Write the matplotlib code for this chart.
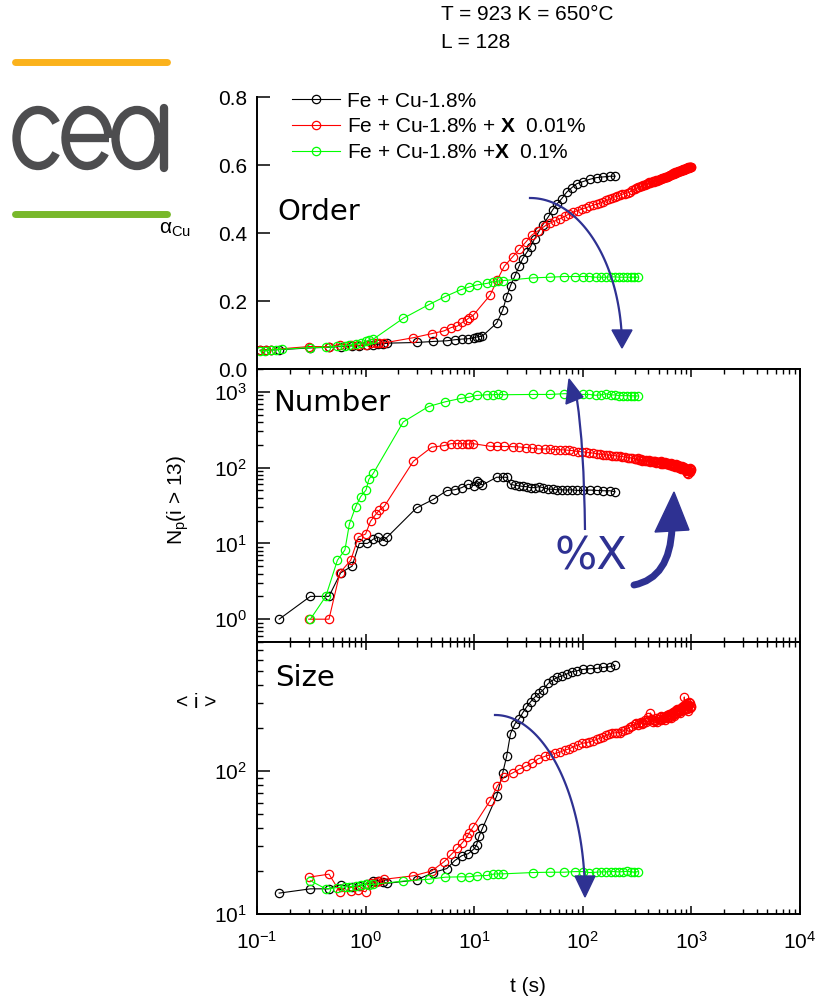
import numpy as np
import matplotlib
matplotlib.use('Agg')
import matplotlib.pyplot as plt
from matplotlib.patches import Arc, Polygon, PathPatch
from matplotlib.path import Path
from matplotlib.ticker import LogLocator, NullFormatter, FixedLocator, FormatStrFormatter

plt.rcParams['font.family'] = ['Liberation Sans', 'DejaVu Sans']
plt.rcParams['mathtext.fontset'] = 'custom'
plt.rcParams['mathtext.rm'] = 'Liberation Sans'
plt.rcParams['mathtext.it'] = 'Liberation Sans:italic'
plt.rcParams['mathtext.bf'] = 'Liberation Sans:bold'

nan = np.nan

# ---------------- data ----------------
labels = ['Fe + Cu-1.8%',
          r'Fe + Cu-1.8% + $\mathbf{X}$  0.01%',
          r'Fe + Cu-1.8% +$\mathbf{X}$  0.1%']
colors = ['#000000', '#FF0000', '#00FF00']

t_black = [0.107, 0.12, 0.135, 0.16, 0.31, 0.46, 0.59, 0.75, 0.875, 1.04, 1.18, 1.30, 1.46, 1.58,
           2.95, 4.2, 5.6, 6.6, 7.7, 8.8, 10.0, 10.5, 11.1, 11.9,
           16.1, 18.3, 19.9, 21.6, 23.8, 26, 28, 30.5, 33, 36,
           39.5, 43, 48, 53, 58, 64, 71, 79, 88, 100,
           116, 134, 155, 178, 198]
order_black = [0.055, 0.056, 0.056, 0.057, 0.062, 0.064, 0.066, 0.068, 0.069, 0.071, 0.072, 0.073, 0.074, 0.076,
               0.078, 0.081, 0.083, 0.086, 0.088, 0.089, 0.092, 0.094, 0.095, 0.097,
               0.135, 0.173, 0.213, 0.245, 0.275, 0.304, 0.325, 0.343, 0.360, 0.383,
               0.405, 0.425, 0.447, 0.469, 0.486, 0.501, 0.520, 0.533, 0.545, 0.551,
               0.558, 0.563, 0.565, 0.567, 0.567]
number_black = [nan, nan, nan, 1, 2, 2, 4.1, 5, 10, 10, 11.4, 12.1, 10.9, 12.1,
                29.5, 38, 49.7, 51, 54.5, 60.3, 58, 66.8, 63, 59,
                74.6, 74.6, 74.6, 60, 58.5, 57.3, 56.5, 56, 54.4, 54.4,
                56, 54.4, 52, 51.7, 51, 51, 50.5, 51, 50, 50,
                50.5, 50, 49.5, 49.5, 48]
size_black = [nan, nan, nan, 14, 15, 15, 16, 15.5, 15.8, 16.3, 17, 17.1, 16.8, 16.4,
              17.3, 19.5, 20.8, 23.6, 25.6, 26.4, 28.6, 30.4, 35.1, 39.7,
              66.8, 97, 127, 183, 215, 233, 256, 282, 305, 328,
              349, 368, 410, 433, 452, 462, 477, 495, 503, 514,
              520, 523, 531, 537, 548]

t_red = [0.107, 0.12, 0.135, 0.30, 0.46, 0.58, 0.73, 0.857, 1.0, 1.11, 1.25, 1.34, 1.49,
         2.75, 4.06, 5.27, 6.15, 6.99, 7.77, 8.53, 9.0, 9.8, 14, 16.3, 18.9,
         22.6, 26, 30, 34, 39, 45, 50, 56, 62, 68,
         75, 82, 90, 98, 106, 115, 125, 135, 145, 155,
         165, 175, 185, 196, 208, 220, 232, 245, 258, 272, 286,
         300, 310, 320, 330, 340, 350, 360, 370, 380, 390,
         400, 410, 420, 430, 440, 450, 460, 470, 480, 490,
         500, 510, 520, 530, 540, 550, 560, 570, 580, 590,
         600, 610, 620, 630, 640, 650, 660, 670, 680, 690,
         700, 710, 720, 730, 740, 750, 760, 770, 780, 790,
         800, 810, 820, 830, 840, 850, 860, 870, 880, 890,
         900, 910, 920, 930, 940, 950, 960, 970, 980, 990,
         1000]
order_red = [0.055, 0.056, 0.057, 0.066, 0.066, 0.072, 0.070, 0.070, 0.071, 0.076, 0.077, 0.077, 0.077,
             0.092, 0.104, 0.112, 0.122, 0.126, 0.137, 0.145, 0.151, 0.158, 0.217, 0.262, 0.302,
             0.330, 0.352, 0.374, 0.394, 0.407, 0.421, 0.429, 0.436, 0.442, 0.449,
             0.456, 0.462, 0.466, 0.470, 0.474, 0.478, 0.482, 0.485, 0.488, 0.492,
             0.496, 0.499, 0.502, 0.506, 0.508, 0.511, 0.514, 0.516, 0.518, 0.521, 0.526,
             0.529, 0.531, 0.534, 0.535, 0.537, 0.539, 0.540, 0.542, 0.544, 0.545,
             0.546, 0.549, 0.548, 0.551, 0.552, 0.551, 0.554, 0.555, 0.554, 0.556,
             0.557, 0.558, 0.560, 0.559, 0.561, 0.563, 0.562, 0.564, 0.565, 0.564,
             0.566, 0.568, 0.567, 0.570, 0.571, 0.570, 0.573, 0.574, 0.576, 0.575,
             0.577, 0.578, 0.577, 0.579, 0.580, 0.581, 0.580, 0.582, 0.583, 0.582,
             0.583, 0.585, 0.584, 0.586, 0.587, 0.586, 0.588, 0.589, 0.588, 0.590,
             0.589, 0.591, 0.590, 0.592, 0.593, 0.591, 0.594, 0.593, 0.595, 0.594,
             0.594]
number_red = [nan, nan, nan, 1, 1, 4.1, 6.0, 12.1, 13.3, 19.6, 24.5, 27.4, 31,
              121, 186, 195, 207, 207, 207, 205, 205, 207, 191, 190, 190,
              189, 187, 184, 180, 176, 176, 175, 173, 172, 171,
              169, 167, 163, 162, 160, 158, 155, 153, 150, 148,
              147, 146, 144, 144, 142, 141, 140, 137, 135, 135, 133,
              131, 128, 133, 127, 129, 124, 127, 122, 126, 124,
              123, 127, 119, 122, 118, 124, 121, 116, 120, 118,
              118, 115, 121, 113, 117, 112, 116, 119, 111, 114,
              112, 116, 108, 113, 110, 114, 106, 111, 108, 104,
              108, 103, 110, 105, 101, 107, 103, 99, 105, 100,
              102, 97, 104, 99, 95, 101, 96, 92, 98, 94,
              90, 97, 86, 93, 82, 96, 91, 88, 99, 93,
              97]
size_red = [nan, nan, nan, 18.1, 19.0, 14.3, 14.5, 14.7, 14.3, 16.4, 16.8, 17.0, 17.5,
            18.5, 20.0, 23.2, 26.1, 28.8, 31.5, 34.4, 37, 40.8, 62, 78.5, 91.2,
            97, 103, 108, 113, 122, 127, 130, 133, 136, 140,
            143, 148, 152, 156, 158, 160, 163, 167, 170, 174,
            178, 181, 184, 185, 186, 185, 190, 193, 198, 203, 208,
            212, 216, 210, 218, 222, 214, 216, 226, 220, 228,
            240, 226, 255, 232, 221, 228, 225, 236, 220, 230,
            232, 238, 226, 244, 231, 240, 236, 228, 242, 236,
            245, 238, 252, 240, 248, 236, 256, 246, 258, 242,
            262, 250, 266, 255, 270, 258, 264, 272, 256, 268,
            275, 262, 282, 270, 286, 266, 330, 278, 290, 272,
            295, 270, 300, 284, 262, 305, 290, 276, 298, 282,
            285]

t_green = [0.107, 0.119, 0.134, 0.150, 0.169, 0.31, 0.43, 0.55, 0.645, 0.71, 0.81, 0.90, 1.01, 1.07, 1.18,
           2.22, 3.8, 5.4, 7.5, 9.0, 10.5, 13.2, 15.0, 16.7, 18.5,
           34.6, 49.9, 67, 84, 100, 115, 131, 146, 164, 181, 198, 216, 236, 257, 276, 296, 324]
order_green = [0.053, 0.054, 0.056, 0.057, 0.058, 0.063, 0.064, 0.067, 0.068, 0.070, 0.074, 0.076, 0.081, 0.084, 0.088,
               0.149, 0.189, 0.213, 0.233, 0.241, 0.247, 0.252, 0.257, 0.259, 0.260,
               0.268, 0.270, 0.272, 0.272, 0.272, 0.272, 0.270, 0.270, 0.270, 0.271, 0.271, 0.270, 0.270, 0.270, 0.270, 0.270, 0.270]
number_green = [nan, nan, nan, nan, nan, 1, 2, 6.0, 8.2, 18.2, 30.4, 41.3, 50.7, 69.7, 84.5,
                400, 640, 738, 817, 850, 896, 915, 915, 925, 915,
                923, 923, 944, 944, 923, 923, 900, 910, 944, 910, 910, 890, 890, 890, 887, 887, 880]
size_green = [nan, nan, nan, nan, nan, 17.1, 15.0, 15.3, 15.5, 15.5, 15.7, 16.0, 16.2, 16.0, 16.1,
              17.0, 17.5, 18.1, 18.2, 18.2, 18.5, 18.6, 19.0, 19.1, 19.1,
              19.5, 19.6, 19.6, 19.8, 19.8, 19.5, 19.6, 19.7, 19.7, 19.8, 19.8, 19.7, 19.8, 19.9, 19.8, 19.6, 19.8]

series = [
    (t_black, order_black, number_black, size_black),
    (t_red, order_red, number_red, size_red),
    (t_green, order_green, number_green, size_green),
]

x_ticks = [1e-1, 1e0, 1e1, 1e2, 1e3, 1e4]
order_ticks = [0.0, 0.2, 0.4, 0.6, 0.8]

# ---------------- figure ----------------
W, H = 816, 1005
fig = plt.figure(figsize=(W / 100, H / 100), dpi=100)
BLUE = '#2E3192'
FS = 15


def rect(l, t, r, b):
    return [l / W, 1 - b / H, (r - l) / W, (b - t) / H]


ax1 = fig.add_axes(rect(257, 97, 800, 369))
ax2 = fig.add_axes(rect(257, 369, 800, 642))
ax3 = fig.add_axes(rect(257, 642, 800, 914))

for (t, o, n, s), c, lab in zip(series, colors, labels):
    kw = dict(color=c, marker='o', mfc='none', mec=c, ms=6, mew=0.9, lw=0.8)
    ax1.plot(t, o, label=lab, **kw)
    ax2.plot(t, n, **kw)
    ax3.plot(t, s, **kw)

for ax in (ax1, ax2, ax3):
    ax.set_xscale('log')
    ax.set_xlim(1e-1, 1e4)
    for sp in ax.spines.values():
        sp.set_linewidth(1.4)

ax1.set_ylim(0, 0.8)
ax1.set_yticks(order_ticks)
ax1.yaxis.set_major_formatter(FormatStrFormatter('%.1f'))
ax1.spines['top'].set_visible(False)
ax1.spines['right'].set_visible(False)
ax1.tick_params(axis='y', which='major', direction='in', length=9, width=1.1, labelsize=FS, pad=7)
ax1.tick_params(axis='x', which='both', length=0, labelbottom=False)

ax2.set_yscale('log')
ax2.set_ylim(0.5, 2000)
ax3.set_yscale('log')
ax3.set_ylim(10, 800)

for ax in (ax2, ax3):
    ax.yaxis.set_major_locator(LogLocator(base=10, numticks=10))
    ax.yaxis.set_minor_locator(LogLocator(base=10, subs=np.arange(2, 10), numticks=20))
    ax.yaxis.set_minor_formatter(NullFormatter())
    ax.tick_params(axis='y', which='major', direction='in', length=9, width=1.1, labelsize=FS, pad=7,
                   right=False)
    ax.tick_params(axis='y', which='minor', direction='in', length=4, width=1.0, right=False)
    ax.xaxis.set_major_locator(FixedLocator(x_ticks))
    ax.xaxis.set_minor_locator(LogLocator(base=10, subs=np.arange(2, 10), numticks=20))
    ax.xaxis.set_minor_formatter(NullFormatter())
    ax.tick_params(axis='x', which='major', direction='in', length=6, width=1.1, top=True, bottom=True,
                   labelsize=FS, pad=12)
    ax.tick_params(axis='x', which='minor', direction='in', length=3.5, width=1.0, top=True, bottom=True)

ax2.tick_params(axis='x', which='both', labelbottom=False)

leg = ax1.legend(loc='upper left', bbox_to_anchor=(0.064, 1.02), frameon=False, fontsize=FS,
                 handlelength=2.3, handletextpad=0.35, labelspacing=0.33, borderpad=0, borderaxespad=0)

# panel captions
ax1.text(20 / 543, 1 - (212 - 97) / 272, 'Order', transform=ax1.transAxes, fontsize=21,
         family='DejaVu Sans', va='center', ha='left')
ax2.text(16 / 543, 1 - (403 - 369) / 273, 'Number', transform=ax2.transAxes, fontsize=21,
         family='DejaVu Sans', va='center', ha='left')
ax3.text(18 / 543, 1 - (678 - 642) / 272, 'Size', transform=ax3.transAxes, fontsize=21,
         family='DejaVu Sans', va='center', ha='left')

# axis labels
fig.text(175 / W, 1 - 229 / H, r'$\mathrm{\alpha}_{\mathrm{Cu}}$', fontsize=FS, ha='center', va='center')
fig.text(178 / W, 1 - 500 / H, r'N$_\mathregular{p}$(i > 13)', fontsize=FS, ha='center', va='center',
         rotation=90)
fig.text(196 / W, 1 - 703 / H, '< i >', fontsize=FS, ha='center', va='center')
fig.text(528 / W, 1 - 986 / H, 't (s)', fontsize=FS, ha='center', va='center')

fig.text(441 / W, 1 - 15 / H, 'T = 923 K = 650°C', fontsize=FS, ha='left', va='center')
fig.text(441 / W, 1 - 42 / H, 'L = 128', fontsize=FS, ha='left', va='center')

# ---------------- overlay: logo and arrows (pixel coordinates) ----------------
ov = fig.add_axes([0, 0, 1, 1], zorder=10)
ov.set_xlim(0, W)
ov.set_ylim(H, 0)
ov.axis('off')
ov.patch.set_alpha(0)

GRAY = '#4D4D4F'
ov.plot([15, 167], [62, 62], color='#FBB21C', lw=5, solid_capstyle='round')
ov.plot([15, 167], [214, 214], color='#78B82A', lw=5, solid_capstyle='round')
lw_logo = 6
ov.add_patch(Arc((38, 138), 43, 56, theta1=40, theta2=320, color=GRAY, lw=lw_logo))
ov.add_patch(Arc((87, 138), 43, 56, theta1=40, theta2=360, color=GRAY, lw=lw_logo))
ov.plot([66, 109], [138, 138], color=GRAY, lw=lw_logo, solid_capstyle='butt')
ov.add_patch(Arc((137, 138), 43, 56, theta1=0, theta2=360, color=GRAY, lw=lw_logo))
ov.plot([164, 164], [108, 168], color=GRAY, lw=lw_logo, solid_capstyle='round')

# top arrow (quarter ellipse)
th = np.linspace(0, np.radians(84), 80)
ov.plot(530 + 92 * np.sin(th), 347 - 149 * np.cos(th), color=BLUE, lw=1.6)
ov.add_patch(Polygon([(612, 330), (632, 330), (622, 348)], closed=True, color=BLUE))

# bottom arrow
th = np.linspace(0, np.radians(83.5), 80)
ov.plot(495 + 90 * np.sin(th), 897 - 182 * np.cos(th), color=BLUE, lw=1.6)
ov.add_patch(Polygon([(575, 876), (595, 876), (585, 897)], closed=True, color=BLUE))

# middle thin arrow
p = Path([(585, 530), (584, 445), (577, 400)], [Path.MOVETO, Path.CURVE3, Path.CURVE3])
ov.add_patch(PathPatch(p, fc='none', ec=BLUE, lw=1.6))
ov.add_patch(Polygon([(566, 404), (583, 397), (569, 379)], closed=True, color=BLUE))

# middle thick arrow
p = Path([(634, 585), (670, 578), (672, 528)], [Path.MOVETO, Path.CURVE3, Path.CURVE3])
ov.add_patch(PathPatch(p, fc='none', ec=BLUE, lw=5, capstyle='round'))
ov.add_patch(Polygon([(655, 532), (689, 530), (674, 492)], closed=True, color=BLUE))

ov.text(591, 557, '%X', fontsize=32, color=BLUE, family='DejaVu Sans', ha='center', va='center')

fig.savefig('out.png', dpi=100)
